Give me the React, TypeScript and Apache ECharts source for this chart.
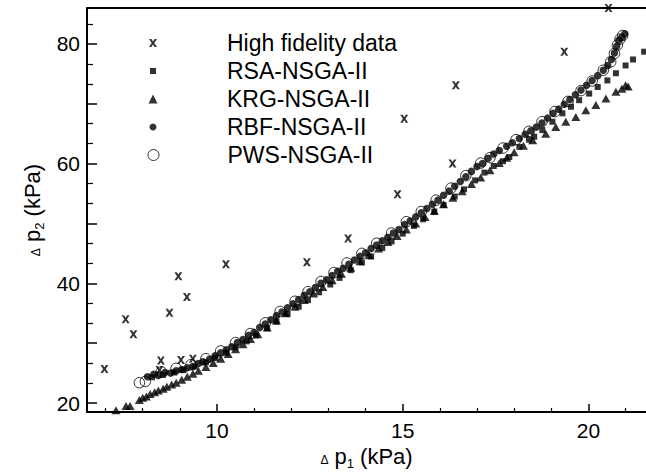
import React, { useEffect, useRef } from 'react';
import * as echarts from 'echarts';

const FONT = 'Liberation Sans, Arial, Helvetica, sans-serif';

const seriesNames = ['High fidelity data', 'RSA-NSGA-II', 'KRG-NSGA-II', 'RBF-NSGA-II', 'PWS-NSGA-II'];

const highFidelity = [
  [6.97, 25.7], [7.54, 34.0], [7.75, 31.5], [8.45, 25.5], [8.49, 27.1], [8.72, 35.1],
  [8.96, 41.2], [9.03, 27.2], [9.19, 37.7], [9.35, 27.4], [10.24, 43.2], [12.42, 43.5],
  [13.53, 47.5], [14.86, 54.9], [15.04, 67.5], [16.34, 60.0], [16.43, 73.1], [19.35, 78.7],
  [20.54, 86.0],
];

const rsa = [
  [8.25, 24.3], [8.55, 24.7], [8.85, 25.1], [9.1, 25.5], [9.4, 26.1], [9.7, 26.8], [9.95, 27.5],
  [10.25, 28.4], [10.5, 29.3], [10.8, 30.3], [11.05, 31.3], [11.35, 32.5], [11.6, 33.6], [11.9, 34.9],
  [12.2, 36.1], [12.45, 37.2], [12.75, 38.5], [13.05, 39.8], [13.3, 40.9], [13.6, 42.2], [13.9, 43.5],
  [14.15, 44.5], [14.45, 45.9], [14.7, 47.0], [15.0, 48.3], [15.3, 49.6], [15.55, 50.7], [15.85, 52.0],
  [16.1, 53.1], [16.4, 54.5], [16.65, 55.7], [16.95, 57.2], [17.2, 58.5], [17.45, 59.6], [17.7, 60.4],
  [17.87, 61.1], [18.14, 62.8], [18.4, 64.0], [18.54, 64.5], [18.76, 65.6], [19.03, 67.0], [19.3, 68.4],
  [19.53, 69.5], [19.75, 70.6], [20.02, 71.7], [20.25, 72.8], [20.51, 73.9], [20.74, 75.1], [21.0, 76.4],
  [21.2, 77.4], [21.5, 78.7],
];

const krg = [
  [7.28, 18.8], [7.55, 19.5], [7.66, 19.5], [7.91, 20.5], [8.0, 20.9], [8.1, 21.1], [8.2, 21.5],
  [8.32, 21.8], [8.42, 22.1], [8.55, 22.4], [8.65, 22.7], [8.78, 23.1], [8.9, 23.4], [9.05, 23.9],
  [9.2, 24.4], [9.35, 24.9], [9.5, 25.4], [9.7, 26.0], [9.9, 26.7], [10.1, 27.4], [10.3, 28.2],
  [10.5, 29.0], [10.7, 29.8], [10.9, 30.7], [11.1, 31.5], [11.35, 32.6], [11.6, 33.8], [11.85, 35.0],
  [12.1, 36.1], [12.35, 37.2], [12.6, 38.3], [12.85, 39.4], [13.1, 40.5], [13.35, 41.6], [13.6, 42.6],
  [13.85, 43.7], [14.1, 44.7], [14.35, 45.8], [14.6, 46.9], [14.85, 47.9], [15.1, 49.0], [15.35, 50.0],
  [15.6, 51.1], [15.85, 52.1], [16.1, 53.2], [16.35, 54.3], [16.6, 55.4], [16.85, 56.6], [17.1, 57.7],
  [17.35, 58.9], [17.6, 60.1], [17.8, 61.0], [18.0, 61.9], [18.25, 63.0], [18.5, 63.9], [18.85, 65.0],
  [19.12, 66.1], [19.39, 67.0], [19.66, 67.8], [19.93, 68.9], [20.2, 69.8], [20.47, 70.9], [20.74, 72.0],
  [20.9, 72.5], [21.0, 73.1], [21.07, 72.9],
];

const rbf = [
  [8.13, 24.4], [8.3, 24.8], [8.42, 24.6], [8.6, 25.1], [8.75, 25.0], [8.9, 25.4], [9.05, 25.6],
  [9.2, 25.9], [9.35, 26.1], [9.5, 26.6], [9.62, 26.9], [9.8, 27.3], [9.95, 27.9], [10.1, 28.4],
  [10.25, 28.9], [10.4, 29.4], [10.55, 30.1], [10.7, 30.6], [10.85, 31.3], [11.0, 31.8], [11.15, 32.6],
  [11.3, 33.2], [11.45, 33.9], [11.6, 34.6], [11.75, 35.2], [11.9, 35.9], [12.05, 36.6], [12.2, 37.3],
  [12.35, 38.0], [12.5, 38.6], [12.65, 39.3], [12.8, 40.0], [12.95, 40.6], [13.1, 41.3], [13.25, 42.0],
  [13.4, 42.5], [13.55, 43.2], [13.7, 43.9], [13.85, 44.5], [14.0, 45.1], [14.15, 45.8], [14.3, 46.4],
  [14.45, 47.1], [14.6, 47.7], [14.75, 48.4], [14.9, 49.0], [15.05, 49.8], [15.2, 50.4], [15.35, 51.1],
  [15.5, 51.8], [15.65, 52.5], [15.8, 53.2], [15.95, 53.9], [16.1, 54.7], [16.25, 55.4], [16.4, 56.2],
  [16.55, 57.0], [16.7, 57.8], [16.85, 58.7], [17.0, 59.5], [17.15, 60.0], [17.3, 60.9], [17.45, 61.6],
  [17.6, 62.2], [17.8, 62.9], [17.95, 63.5], [18.14, 64.2], [18.3, 64.9], [18.45, 65.5], [18.6, 66.1],
  [18.75, 66.8], [18.9, 67.6], [19.05, 68.4], [19.2, 69.1], [19.35, 69.9], [19.5, 70.7], [19.65, 71.5],
  [19.8, 72.3], [19.95, 73.1], [20.1, 73.9], [20.25, 74.7], [20.4, 75.6], [20.52, 76.4], [20.62, 77.4],
  [20.7, 78.5], [20.76, 79.6], [20.82, 80.6], [20.9, 81.1], [20.98, 81.7],
];

const pws = [
  [7.91, 23.4], [8.07, 23.6], [8.5, 25.2], [8.9, 25.8], [9.3, 26.4], [9.7, 27.4], [10.1, 28.7],
  [10.5, 30.1], [10.9, 31.6], [11.3, 33.4], [11.7, 35.3], [12.1, 37.0], [12.45, 38.6], [12.8, 40.3],
  [13.15, 41.8], [13.5, 43.4], [13.9, 45.0], [14.3, 46.7], [14.7, 48.4], [15.1, 50.3], [15.5, 52.0],
  [15.9, 53.9], [16.3, 55.9], [16.7, 58.0], [17.1, 60.1], [17.35, 61.0], [17.7, 62.6], [18.05, 64.0],
  [18.4, 65.4], [18.75, 67.0], [19.1, 68.7], [19.45, 70.4], [19.8, 72.2], [20.1, 73.8], [20.4, 75.6],
  [20.6, 77.0], [20.7, 78.4], [20.78, 79.8], [20.85, 80.8], [20.92, 81.4],
];

const xMajor = [10, 15, 20];
const xMinor = [7, 8, 9, 11, 12, 13, 14, 16, 17, 18, 19, 21];
const yMajorTicks = [20, 30, 40, 50, 60, 70, 80];
const yLabels = [20, 40, 60, 80];
const yMinor = [23.33, 26.67, 33.33, 36.67, 43.33, 46.67, 53.33, 56.67, 63.33, 66.67, 73.33, 76.67, 83.33];

const X_MIN = 6.5;
const X_MAX = 21.55;
const Y_MIN = 18.5;
const Y_MAX = 86;

const X_PATH = 'path://M0,0L3,0L5,3L7,0L10,0L6.6,5L10,10L7,10L5,7L3,10L0,10L3.4,5Z';

export default function App() {
  const ref = useRef<HTMLDivElement>(null);

  useEffect(() => {
    if (!ref.current) return;
    const chart = echarts.init(ref.current, undefined, { renderer: 'svg' });

    const black = '#000';
    const nameRich = () => ({
      fontSize: 22,
      color: black,
      fontFamily: FONT,
      rich: {
        d: { fontSize: 12, fontFamily: FONT, color: black, padding: [6, 0, 0, 0] },
        s: { fontSize: 13, fontFamily: FONT, color: black, padding: [13, 0, 0, 0] },
        t: { fontSize: 22, fontFamily: FONT, color: black },
      },
    });

    const symbols = [X_PATH, 'rect', 'triangle', 'circle', 'circle'];
    const legendSizes = [8, 6, 9, 7, 11];
    const rows = [43, 71, 99, 127, 155];

    const legends = seriesNames.map((n, i) => ({
      show: true,
      orient: 'vertical',
      left: 153 - legendSizes[i] / 2,
      top: rows[i] - 13,
      padding: 0,
      itemWidth: legendSizes[i],
      itemHeight: legendSizes[i],
      selectedMode: false,
      itemStyle: i === 4 ? { borderWidth: 1, borderColor: black, color: 'transparent' } : { borderWidth: 0 },
      data: [{ name: n, icon: symbols[i] }],
      textStyle: {
        fontSize: 23,
        color: black,
        fontFamily: FONT,
        lineHeight: 26,
        padding: [0, 0, 0, 69 - legendSizes[i] / 2],
      },
    }));

    const datasets = [highFidelity, rsa, krg, rbf, pws];
    const sizes: any[] = [8, 6, [9, 8], 7.5, 10.5];

    const series = seriesNames.map((n, i) => ({
      name: n,
      type: 'scatter',
      xAxisIndex: 0,
      yAxisIndex: 0,
      symbol: symbols[i],
      symbolSize: sizes[i],
      data: datasets[i],
      itemStyle:
        i === 4
          ? { color: 'transparent', borderColor: black, borderWidth: 1 }
          : { color: black, borderWidth: 0 },
      emphasis: { disabled: true },
      z: 2 + i,
    }));

    chart.setOption({
      animation: false,
      backgroundColor: '#fff',
      textStyle: { fontFamily: FONT },
      grid: { left: 87, right: 0, top: 8, bottom: 63, containLabel: false, outerBoundsMode: 'none' },
      legend: legends,
      xAxis: [
        {
          type: 'value',
          min: X_MIN,
          max: X_MAX,
          position: 'bottom',
          name: '{d|Δ} {t|p}{s|1}{t| (kPa)}',
          nameLocation: 'middle',
          nameGap: 30,
          nameTextStyle: nameRich(),
          axisLine: { show: true, onZero: false, lineStyle: { color: black, width: 2 } },
          axisTick: { show: true, inside: true, length: 8, customValues: xMajor, lineStyle: { color: black, width: 1.5 } },
          axisLabel: { show: true, customValues: xMajor, fontSize: 21, color: black, margin: 8, fontFamily: FONT },
          splitLine: { show: false },
        },
        {
          type: 'value',
          min: X_MIN,
          max: X_MAX,
          position: 'bottom',
          axisLine: { show: false, onZero: false },
          axisTick: { show: true, inside: true, length: 4, customValues: xMinor, lineStyle: { color: black, width: 1.2 } },
          axisLabel: { show: false },
          splitLine: { show: false },
        },
        {
          type: 'value',
          min: X_MIN,
          max: X_MAX,
          position: 'top',
          axisLine: { show: true, onZero: false, lineStyle: { color: black, width: 2 } },
          axisTick: { show: false },
          axisLabel: { show: false },
          splitLine: { show: false },
        },
      ],
      yAxis: [
        {
          type: 'value',
          min: Y_MIN,
          max: Y_MAX,
          position: 'left',
          name: '{d|Δ} {t|p}{s|2}{t| (kPa)}',
          nameLocation: 'middle',
          nameRotate: 90,
          nameGap: 36,
          nameTextStyle: nameRich(),
          axisLine: { show: true, onZero: false, lineStyle: { color: black, width: 2 } },
          axisTick: { show: true, inside: true, length: 10, customValues: yMajorTicks, lineStyle: { color: black, width: 1.5 } },
          axisLabel: { show: true, customValues: yLabels, fontSize: 21, color: black, margin: 7, fontFamily: FONT },
          splitLine: { show: false },
        },
        {
          type: 'value',
          min: Y_MIN,
          max: Y_MAX,
          position: 'left',
          axisLine: { show: false, onZero: false },
          axisTick: { show: true, inside: true, length: 6, customValues: yMinor, lineStyle: { color: black, width: 1.2 } },
          axisLabel: { show: false },
          splitLine: { show: false },
        },
      ],
      series,
    });

    return () => {
      chart.dispose();
    };
  }, []);

  return (
    <div
      ref={ref}
      style={{ position: 'absolute', left: 0, top: 0, width: 646, height: 475, background: '#fff' }}
    />
  );
}
